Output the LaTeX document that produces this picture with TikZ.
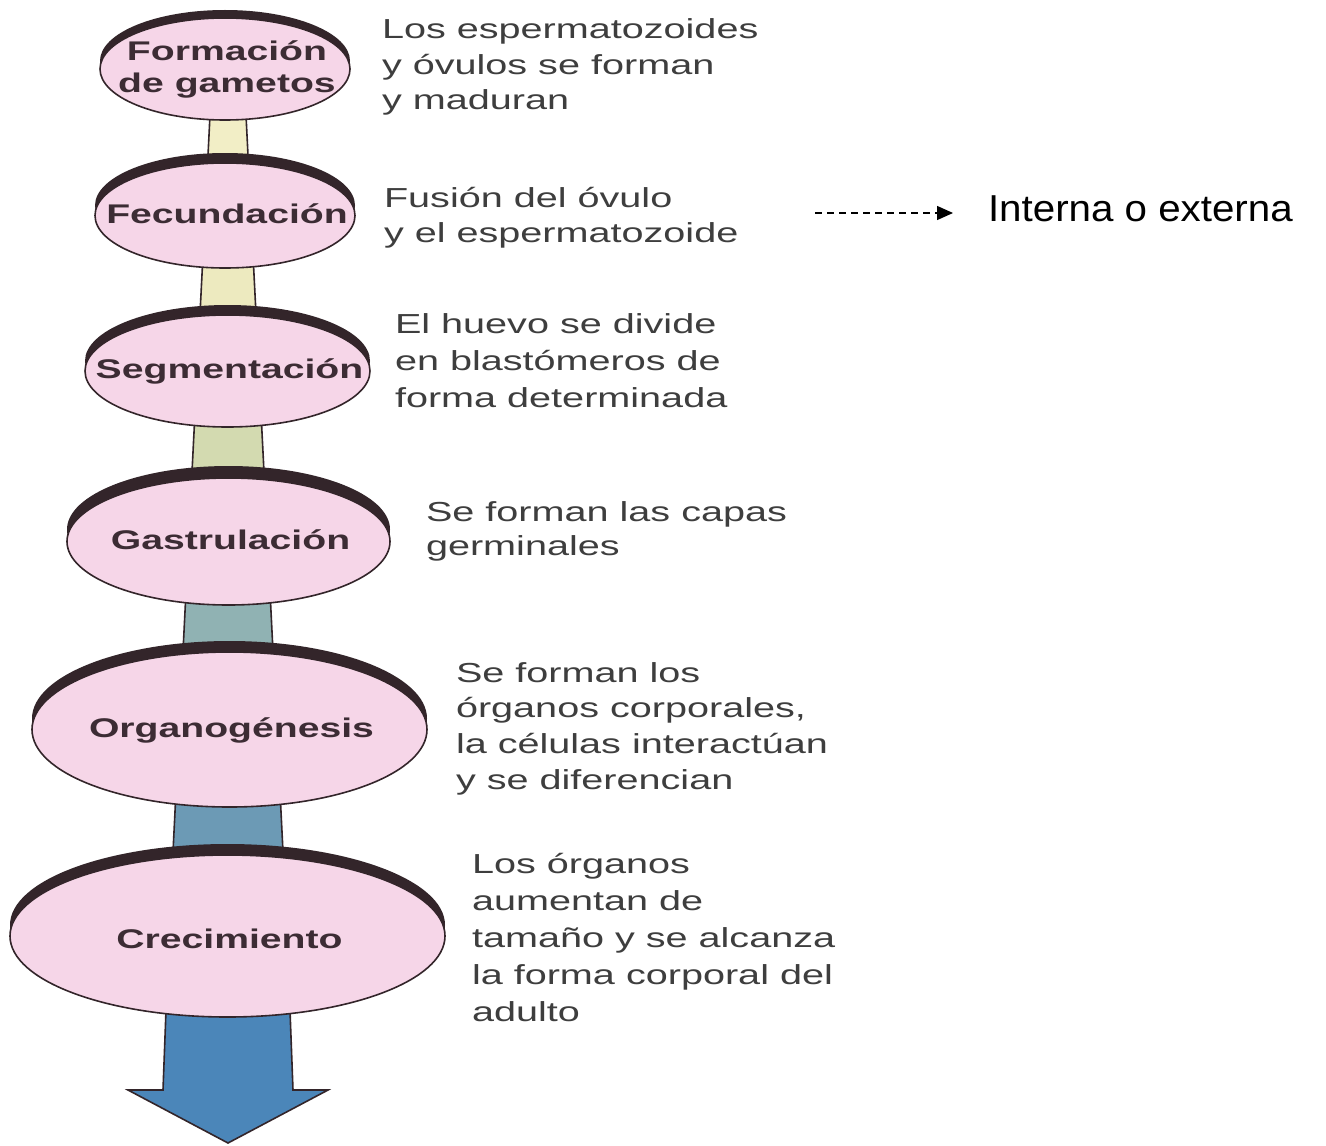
\documentclass[tikz,border=0pt]{standalone}
\usepackage{fontspec}
\setmainfont{Liberation Sans}
\newfontfamily\stagefont[FakeStretch=1.45]{Liberation Sans}
\newfontfamily\descfont[FakeStretch=1.44]{Liberation Sans}
\newfontfamily\notefont[FakeStretch=1.075]{Liberation Sans}
\usetikzlibrary{shapes.geometric,backgrounds,calc,arrows.meta}

\definecolor{pinkfill}{HTML}{F6D6E8}
\definecolor{rimc}{HTML}{33252A}
\definecolor{stagetxt}{HTML}{3C2C34}
\definecolor{desctxt}{HTML}{3E3E3E}
\definecolor{segA}{HTML}{F2EEC6}
\definecolor{segB}{HTML}{EDEABF}
\definecolor{segC}{HTML}{D3DAB0}
\definecolor{segD}{HTML}{90B2B3}
\definecolor{segE}{HTML}{6C9AB5}
\definecolor{segF}{HTML}{4B86B9}

\newcommand\stagenode[7]{% name, cx, cy, rx, ry, rim offset, text
  \fill[rimc] (#2,#3-#6) ellipse [x radius={#4*0.5pt}, y radius={#5*0.5pt}];
  \node[stagebox, minimum width=#4pt, minimum height=#5pt] (#1) at (#2,#3) {\makebox[0pt]{\hspace{2pt}#7}};
}
\newcommand\desclines[2]{\fontsize{13.75pt}{#1}\selectfont\begin{tabular}[t]{@{}l@{}}#2\end{tabular}}

\tikzset{
  stagebox/.style={ellipse, fill=pinkfill, draw=rimc, line width=0.8pt,
    inner sep=0pt, outer sep=0pt,
    font={\stagefont\bfseries\fontsize{13.5pt}{16pt}\selectfont},
    text=stagetxt, text height=10pt, text depth=2.5pt},
  desc/.style={anchor=base west, inner sep=0pt, outer sep=0pt, text=desctxt, font=\descfont},
  stemseg/.style={draw=rimc, line width=0.8pt, line join=miter},
  note/.style={anchor=base west, inner sep=0pt, outer sep=0pt, text=black,
    font={\notefont\fontsize{18.75pt}{22pt}\selectfont}},
  dashlink/.style={draw=black, line width=0.7pt, dash pattern=on 3.5pt off 2.5pt,
    -{Triangle[length=8pt,width=7pt]}}
}

\begin{document}
\begin{tikzpicture}[x=0.5pt,y=-0.5pt]
\useasboundingbox (0,0) rectangle (1326,1145);

% stages
\stagenode{e1}{225}{69}{125}{51}{8}{\raisebox{-7.75pt}{\begin{tabular}[b]{@{}c@{}}Formación\\de gametos\end{tabular}}}
\stagenode{e2}{225}{215.5}{130}{52.5}{10}{Fecundación}
\stagenode{e3}{227.5}{371}{142.5}{56}{10}{Segmentación}
\stagenode{e4}{228.5}{541.5}{161.5}{63.5}{12}{Gastrulación}
\stagenode{e5}{229.5}{729.5}{197.5}{77.5}{11}{Organogénesis}
\stagenode{e6}{227.5}{936}{217.5}{81}{11}{\raisebox{-2.5pt}{Crecimiento}}

\coordinate (axis) at (228,0);
\coordinate (tip) at (228,1143);

% stem between stages
\begin{scope}[on background layer]
  \fill[white] (0,0) rectangle (1326,1145);
  \draw[stemseg, fill=segA] ($(e1.center -| axis)+(-15.7,0)$) -- ($(e2.center -| axis)+(-23,0)$)
        -- ($(e2.center -| axis)+(23,0)$) -- ($(e1.center -| axis)+(15.7,0)$) -- cycle;
  \draw[stemseg, fill=segB] ($(e2.center -| axis)+(-23,0)$) -- ($(e3.center -| axis)+(-30.9,0)$)
        -- ($(e3.center -| axis)+(30.9,0)$) -- ($(e2.center -| axis)+(23,0)$) -- cycle;
  \draw[stemseg, fill=segC] ($(e3.center -| axis)+(-30.9,0)$) -- ($(e4.center -| axis)+(-39.5,0)$)
        -- ($(e4.center -| axis)+(39.5,0)$) -- ($(e3.center -| axis)+(30.9,0)$) -- cycle;
  \draw[stemseg, fill=segD] ($(e4.center -| axis)+(-39.5,0)$) -- ($(e5.center -| axis)+(-48.9,0)$)
        -- ($(e5.center -| axis)+(48.9,0)$) -- ($(e4.center -| axis)+(39.5,0)$) -- cycle;
  \draw[stemseg, fill=segE] ($(e5.center -| axis)+(-48.9,0)$) -- ($(e6.center -| axis)+(-59.2,0)$)
        -- ($(e6.center -| axis)+(59.2,0)$) -- ($(e5.center -| axis)+(48.9,0)$) -- cycle;
  \draw[stemseg, fill=segF] ($(e6.center -| axis)+(-59.2,0)$) -- ($(tip)+(-65,-53)$)
        -- ($(tip)+(-100,-53)$) -- (tip) -- ($(tip)+(100,-53)$) -- ($(tip)+(65,-53)$)
        -- ($(e6.center -| axis)+(59.2,0)$) -- cycle;
\end{scope}

% descriptions
\node[desc] (d1) at (382,39) {\desclines{17.75pt}{Los espermatozoides\\y óvulos se forman\\y maduran}};
\node[desc] (d2) at (384,207) {\desclines{17.5pt}{Fusión del óvulo\\y el espermatozoide}};
\node[desc] (d3) at (395,333) {\desclines{18.5pt}{El huevo se divide\\en blastómeros de\\forma determinada}};
\node[desc] (d4) at (426,521) {\desclines{17pt}{Se forman las capas\\germinales}};
\node[desc] (d5) at (456,682) {\desclines{17.85pt}{Se forman los\\órganos corporales,\\la células interactúan\\y se diferencian}};
\node[desc] (d6) at (472,873) {\desclines{18.5pt}{Los órganos\\aumentan de\\tamaño y se alcanza\\la forma corporal del\\adulto}};

% note
\coordinate (fstart) at (815,213);
\node[note] (int) at (988,221) {Interna o externa};
\draw[dashlink, shorten >=17.5pt] (fstart) -- (fstart -| int.west);
\end{tikzpicture}
\end{document}
